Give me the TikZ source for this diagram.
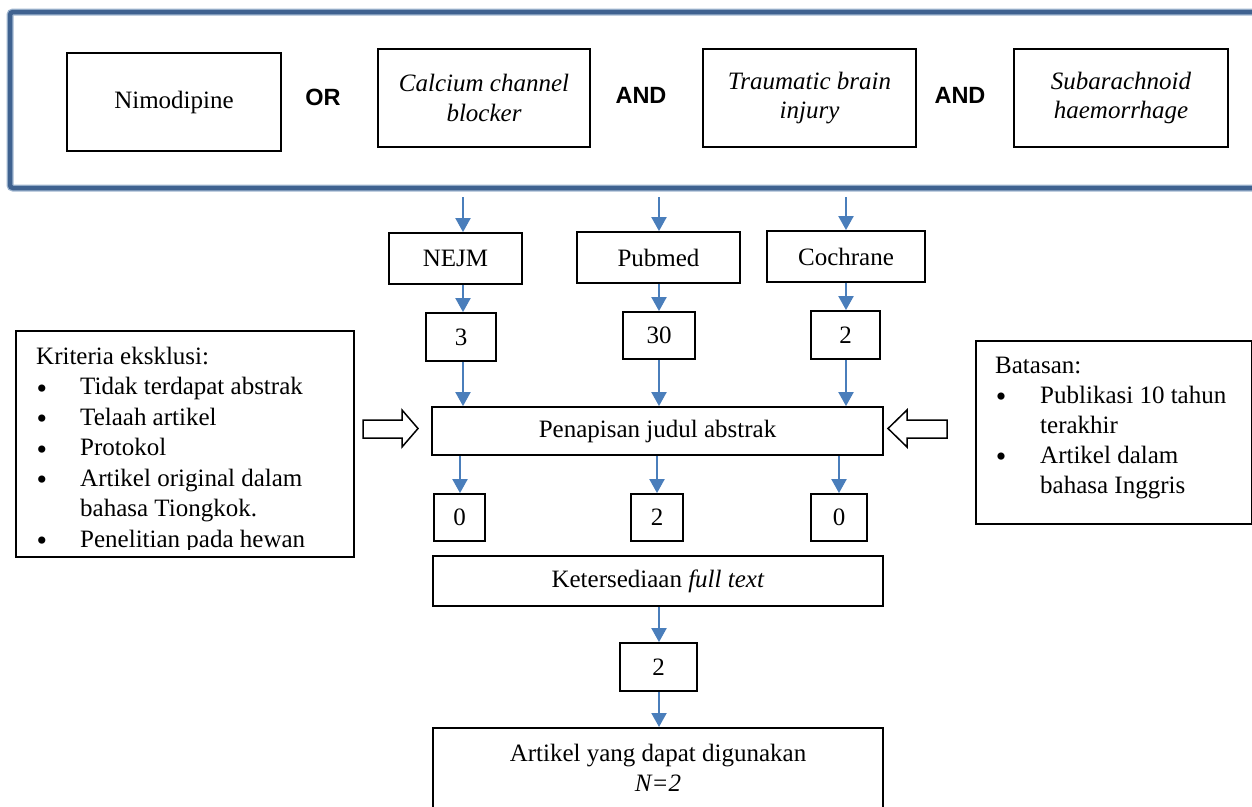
\documentclass[tikz,border=0pt]{standalone}
\usepackage{fontspec}
\setmainfont{Liberation Serif}[ItalicFont={Liberation Serif Italic},BoldFont={Liberation Serif Bold}]
\newfontfamily\hdsans{Liberation Sans}[BoldFont={Liberation Sans Bold}]
\usetikzlibrary{arrows.meta}
\definecolor{arrowblue}{RGB}{74,126,187}
\definecolor{frameblue}{RGB}{63,98,144}
\definecolor{framelight}{RGB}{160,182,208}
\newcommand{\bigbul}{{\fontsize{30}{30}\selectfont\raisebox{-3.5pt}{•}}}
\begin{document}
\begin{tikzpicture}[x=1pt,y=-1pt,
  font=\fontsize{25}{29.5}\selectfont,
  box/.style={draw=black, line width=1.8pt, fill=white, inner sep=0pt, align=center},
  arr/.style={draw=arrowblue, line width=2pt, -{Triangle[width=15pt,length=14pt]}},
  opword/.style={font=\hdsans\bfseries\fontsize{23.5}{28}\selectfont},
  hollow/.style={draw=black, line width=1.5pt, fill=white, line join=miter},
  itemtxt/.style={anchor=base west, inner sep=0pt},
  bul/.style={anchor=base, inner sep=0pt}]
\useasboundingbox (0,0) rectangle (1252,806);
\clip (0,0) rectangle (1252,806);

% search frame
\draw[framelight, line width=7pt, rounded corners=3pt] (10,12) rectangle (1275,188);
\draw[frameblue, line width=4.5pt, rounded corners=3pt] (10,12) rectangle (1275,188);

% keyword boxes
\node[box, minimum width=214pt, minimum height=98pt] (nimo) at (174,102) {Nimodipine};
\node[box, minimum width=212pt, minimum height=98pt] (ccb) at (484,98) {\itshape Calcium channel\\\itshape blocker};
\node[box, minimum width=213pt, minimum height=98pt] (tbi) at (809.5,98) {\itshape Traumatic brain\\\itshape injury};
\node[box, minimum width=214pt, minimum height=98pt] (sah) at (1121,98) {\itshape Subarachnoid\\\itshape haemorrhage};
\node[opword] (or) at (323,97) {OR};
\node[opword] (and1) at (641,95) {AND};
\node[opword] (and2) at (960,95) {AND};

% databases
\node[box, minimum width=133pt, minimum height=51pt] (nejm) at (455.5,258.5) {NEJM};
\node[box, minimum width=163pt, minimum height=51pt] (pub) at (658.5,257.5) {Pubmed};
\node[box, minimum width=158pt, minimum height=51pt] (coch) at (846,256.5) {Cochrane};

\node[box, minimum width=70pt, minimum height=48pt] (n3) at (461,337) {3};
\node[box, minimum width=72pt, minimum height=47pt] (n30) at (659,335.5) {30};
\node[box, minimum width=69pt, minimum height=48pt] (n2a) at (845.5,335) {2};

\node[box, minimum width=451pt, minimum height=48pt] (pen) at (657.5,431) {Penapisan judul abstrak};

\node[box, minimum width=51pt, minimum height=47pt] (z1) at (459.5,517.5) {0};
\node[box, minimum width=52pt, minimum height=47pt] (z2) at (657,517.5) {2};
\node[box, minimum width=56pt, minimum height=47pt] (z3) at (839,517.5) {0};

\node[box, minimum width=450pt, minimum height=50pt] (ket) at (658,581) {Ketersediaan \textit{full text}};
\node[box, minimum width=77pt, minimum height=48pt] (n2b) at (658.5,667) {2};
\node[box, minimum width=450pt, minimum height=110pt, anchor=north] (fin) at (658,727) {};
\node[align=center, inner sep=0pt] (fintxt) at (658,768) {Artikel yang dapat digunakan\\\textit{N=2}};

% column guides
\coordinate (c1) at (463,0);
\coordinate (c2) at (659,0);
\coordinate (c3) at (846,0);
\coordinate (d1) at (460,0);
\coordinate (d2) at (657,0);
\coordinate (d3) at (839,0);
\coordinate (s1) at (463,197);
\coordinate (s2) at (659,197);
\coordinate (s3) at (846,197);

% arrows
\draw[arr] (s1) -- (c1 |- nejm.north);
\draw[arr] (s2) -- (c2 |- pub.north);
\draw[arr] (s3) -- (c3 |- coch.north);
\draw[arr] (c1 |- nejm.south) -- (c1 |- n3.north);
\draw[arr] (c2 |- pub.south) -- (c2 |- n30.north);
\draw[arr] (c3 |- coch.south) -- (c3 |- n2a.north);
\draw[arr] (c1 |- n3.south) -- (c1 |- pen.north);
\draw[arr] (c2 |- n30.south) -- (c2 |- pen.north);
\draw[arr] (c3 |- n2a.south) -- (c3 |- pen.north);
\draw[arr] (d1 |- pen.south) -- (d1 |- z1.north);
\draw[arr] (d2 |- pen.south) -- (d2 |- z2.north);
\draw[arr] (d3 |- pen.south) -- (d3 |- z3.north);
\draw[arr] (c2 |- ket.south) -- (c2 |- n2b.north);
\draw[arr] (c2 |- n2b.south) -- (c2 |- fin.north);

% exclusion criteria box
\node[box, minimum width=338pt, minimum height=226pt, anchor=north west] (excl) at (15,330) {};
\begin{scope}
\clip (15,330) rectangle (353,549.5);
\node[itemtxt] (e0) at (36,364) {Kriteria eksklusi:};
\node[bul] (b1) at (42,394.5) {\bigbul};
\node[itemtxt] (e1) at (80,394.5) {Tidak terdapat abstrak};
\node[bul] (b2) at (42,425) {\bigbul};
\node[itemtxt] (e2) at (80,425) {Telaah artikel};
\node[bul] (b3) at (42,455.5) {\bigbul};
\node[itemtxt] (e3) at (80,455.5) {Protokol};
\node[bul] (b4) at (42,486) {\bigbul};
\node[itemtxt] (e4) at (80,486) {Artikel original dalam};
\node[itemtxt] (e5) at (80,516.5) {bahasa Tiongkok.};
\node[bul] (b6) at (42,547) {\bigbul};
\node[itemtxt] (e6) at (80,547) {Penelitian pada hewan};
\end{scope}

% limits box
\node[box, minimum width=276pt, minimum height=183pt, anchor=north west] (lim) at (975,340) {};
\node[itemtxt] (l0) at (995,373) {Batasan:};
\node[bul] (lb1) at (1001,403) {\bigbul};
\node[itemtxt] (l1) at (1040,403) {Publikasi 10 tahun};
\node[itemtxt] (l2) at (1040,433) {terakhir};
\node[bul] (lb3) at (1001,463) {\bigbul};
\node[itemtxt] (l3) at (1040,463) {Artikel dalam};
\node[itemtxt] (l4) at (1040,493) {bahasa Inggris};

% hollow block arrows
\draw[hollow] (363,420) -- (402,420) -- (402,410) -- (418,428.5) -- (402,447) -- (402,438) -- (363,438) -- cycle;
\draw[hollow] (947,420) -- (907,420) -- (907,410) -- (888,428.5) -- (907,447) -- (907,438) -- (947,438) -- cycle;
\end{tikzpicture}
\end{document}
